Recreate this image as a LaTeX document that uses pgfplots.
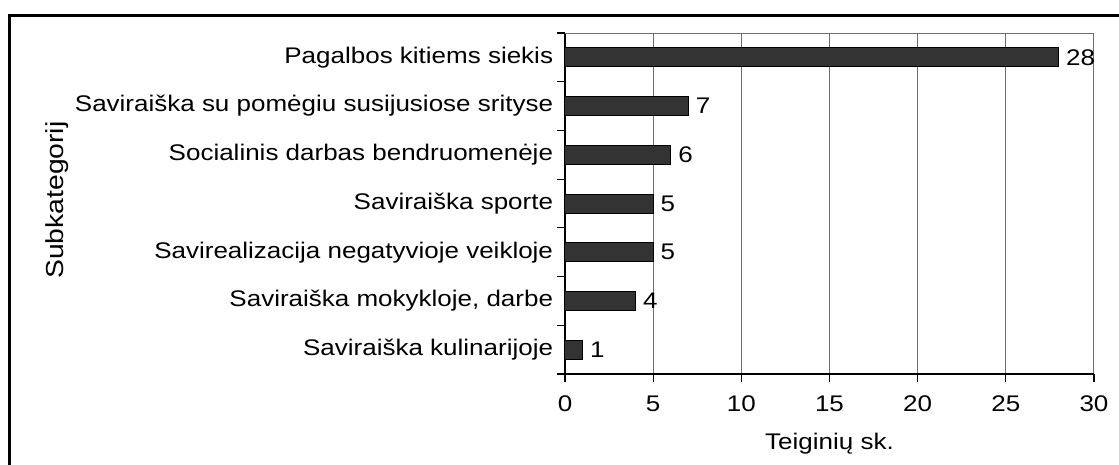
\documentclass[border=0pt]{standalone}
\usepackage{fontspec}
\setmainfont{Liberation Sans}[FakeStretch=1.15]
\usepackage{pgfplots}
\pgfplotsset{compat=1.18}
\definecolor{barfill}{RGB}{51,51,51}
\definecolor{gridgray}{RGB}{110,110,110}
\pgfplotstableread{
y val
0 1
1 4
2 5
3 5
4 6
5 7
6 28
}\datatable
\begin{document}
\fontsize{11.3}{13}\selectfont
\begin{tikzpicture}
\useasboundingbox (0,0) rectangle (559.5pt,232.5pt);
\draw[line width=1.5pt] (4.5pt,0) -- (4.5pt,224.5pt) -- (559.5pt,224.5pt);
\begin{axis}[
  at={(282.5pt,45.5pt)}, anchor=south west,
  scale only axis, width=264.5pt, height=170.5pt,
  xmin=0, xmax=30, ymin=-0.5, ymax=6.5,
  axis x line*=bottom, axis y line*=left,
  axis line style={black, line width=0.6pt, -},
  xtick={0,5,...,30},
  xticklabel style={yshift=-3pt},
  xmajorgrids, major grid style={gridgray, line width=0.5pt},
  tick align=outside, major tick length=4pt,
  tick style={black, line width=0.6pt},
  ytick={-0.5,0.5,...,6.5},
  yticklabels={,,,,,,,,},
  extra y ticks={0,1,2,3,4,5,6},
  extra y tick labels={Saviraiška kulinarijoje, {Saviraiška mokykloje, darbe}, Savirealizacija negatyvioje veikloje, Saviraiška sporte, Socialinis darbas bendruomenėje, Saviraiška su pomėgiu susijusiose srityse, Pagalbos kitiems siekis},
  extra y tick style={ytick style={draw=none}, yticklabel style={xshift=2pt}},
  /pgf/number format/assume math mode=true,
  xlabel={Teiginių sk.},
  xlabel style={yshift=-3pt},
  ylabel={Subkategorij},
  ylabel style={at={(axis description cs:-0.960,0.51)}, anchor=center, font=\fontsize{12.3}{14}\selectfont},
  clip=false,
]
\addplot[xbar, bar width=0.39, fill=barfill, draw=black, line width=0.5pt,
  nodes near coords, nodes near coords style={anchor=west, inner xsep=3.5pt}]
  table[x=val, y=y] {\datatable};
\draw[gridgray, line width=0.5pt] (rel axis cs:0,1) -- (rel axis cs:1,1);
\end{axis}
\end{tikzpicture}
\end{document}
